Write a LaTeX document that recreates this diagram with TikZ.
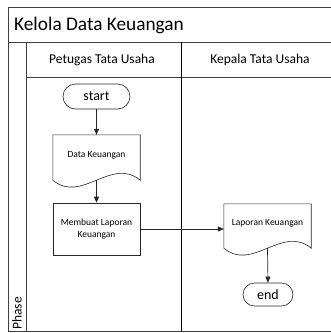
\documentclass[tikz,border=0pt]{standalone}
\usepackage{fontspec}
\setmainfont{Carlito}
\usetikzlibrary{arrows.meta,shapes.misc}
\begin{document}
\begin{tikzpicture}[x=1pt,y=-1pt,
  frame/.style={draw=black!75,line width=0.9pt},
  divider/.style={draw=black,line width=0.7pt},
  term/.style={draw=black!85,rounded rectangle,line width=0.6pt,inner sep=0pt,font=\fontsize{14}{16}\selectfont},
  proc/.style={draw=black!85,rectangle,line width=0.6pt,minimum width=87pt,minimum height=52pt,inner sep=1pt,align=center,font=\fontsize{9.5}{11.5}\selectfont},
  docbox/.style={rectangle,minimum width=87pt,inner sep=0pt},
  doctext/.style={font=\fontsize{9.5}{11.5}\selectfont,inner sep=0pt},
  docline/.style={draw=black!85,line width=0.6pt},
  flow/.style={-{Triangle[length=6pt,width=5pt]},draw=black!85,line width=0.7pt},
  lanetext/.style={font=\fontsize{13.5}{16}\selectfont,inner sep=0pt}]
\useasboundingbox (0,0) rectangle (331,333);
\begin{scope}
\clip (0,0) rectangle (331,333);
% frame
\draw[frame] (8,7) rectangle (345,331);
\draw[frame] (8,42) -- (345,42);
\draw[frame] (26,77) -- (345,77);
\draw[frame] (26,42) -- (26,331);
\draw[divider] (181,42) -- (181,331);
\end{scope}
% texts
\node[anchor=west,inner sep=0pt,font=\fontsize{19.3}{22}\selectfont] (title) at (14,25) {Kelola Data Keuangan};
\node[lanetext] (lane1) at (102,60) {Petugas Tata Usaha};
\node[lanetext] (lane2) at (260,60) {Kepala Tata Usaha};
\node[lanetext,rotate=90,anchor=west] (phase) at (17,330) {Phase};
% nodes
\node[term,minimum width=67pt,minimum height=25pt] (start) at (96.5,96.5) {start};
\node[docbox,minimum height=45pt] (d1) at (96.5,157.5) {};
\draw[docline] (d1.south west) -- (d1.north west) -- (d1.north east) -- (d1.south east)
  .. controls ([shift={(-29pt,24pt)}]d1.south east) and ([shift={(29pt,-24pt)}]d1.south west) .. (d1.south west);
\node[doctext] (d1t) at (96.5,155) {Data Keuangan};
\node[proc] (p1) at (96.5,229) {Membuat Laporan\\Keuangan};
\node[docbox,minimum height=44pt] (d2) at (267.5,226) {};
\draw[docline] (d2.south west) -- (d2.north west) -- (d2.north east) -- (d2.south east)
  .. controls ([shift={(-29pt,24pt)}]d2.south east) and ([shift={(29pt,-24pt)}]d2.south west) .. (d2.south west);
\node[doctext] (d2t) at (267.5,223) {Laporan Keuangan};
\node[term,minimum width=50pt,minimum height=23pt] (end) at (268,294.5) {end};
% connectors
\draw[flow] (start.south) -- (d1.north);
\draw[flow] (d1.south) -- (p1.north);
\draw[flow] (p1.east) -- (p1.east -| d2.west);
\draw[flow] (d2.south) -- (end.north);
\end{tikzpicture}
\end{document}
